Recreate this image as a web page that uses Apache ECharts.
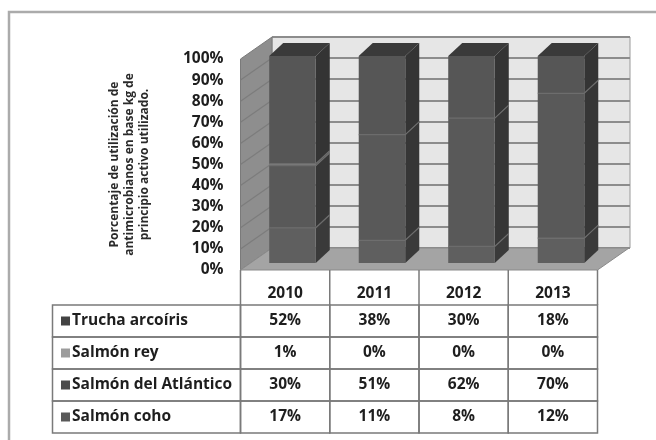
<!DOCTYPE html>
<html><head><meta charset="utf-8">
<script src="https://cdn.jsdelivr.net/npm/echarts@6/dist/echarts.min.js"></script>
<style>html,body{margin:0;padding:0;background:#fff}#c{width:656px;height:440px}</style>
</head><body><div id="c"></div>
<script>
// ---- data ----
const years = ['2010', '2011', '2012', '2013'];
const cohoValues = [17, 11, 8, 12];
const atlanticoValues = [30, 51, 62, 70];
const reyValues = [1, 0, 0, 0];
const truchaValues = [52, 38, 30, 18];
// stack order bottom -> top
const stackNames = ['Salmón coho', 'Salmón del Atlántico', 'Salmón rey', 'Trucha arcoíris'];
const stackValues = [cohoValues, atlanticoValues, reyValues, truchaValues];
const axisTitle = 'Porcentaje de utilización de\nantimicrobianos en base kg de\nprincipio activo utilizado.';

// ---- styles ----
const frontColors = ['#5f5f5f', '#595959', '#7c7c7c', '#565656'];
const sideColors = ['#3a3a3a', '#363636', '#5a5a5a', '#343434'];
const keyColors = ['#595959', '#4c4c4c', '#9c9c9c', '#434343'];
const FONT = '"Open Sans", "DejaVu Sans", sans-serif';
const BDX = 14, BDY = -13;     // bar depth
const WDX = 31.5, WDY = -22;   // wall depth

// table rows (top -> bottom) are reverse of stack
const tableRowIdx = [3, 2, 1, 0];
const tableRows = tableRowIdx.map(i => stackNames[i]);
const tableData = [];
tableRowIdx.forEach((si, r) => {
  years.forEach((y, c) => tableData.push([c, r, stackValues[si][c]]));
});

function barSeries(si) {
  const data = years.map((y, i) => {
    let lo = 0;
    for (let k = 0; k < si; k++) lo += stackValues[k][i];
    return [i, lo, lo + stackValues[si][i]];
  });
  const isTop = si === stackValues.length - 1;
  return {
    type: 'custom', name: stackNames[si], xAxisIndex: 2, yAxisIndex: 2,
    data: data, z: 5 + si,
    renderItem: function (params, api) {
      const i = api.value(0), lo = api.value(1), hi = api.value(2);
      if (hi - lo <= 0) return null;
      const band = api.size([1, 0])[0];
      const w = band * 0.52;
      const pLo = api.coord([i, lo]), pHi = api.coord([i, hi]);
      const x0 = pLo[0] - w / 2, x1 = pLo[0] + w / 2, yB = pLo[1], yT = pHi[1];
      const ch = [
        { type: 'polygon', shape: { points: [[x1, yB], [x1, yT], [x1 + BDX, yT + BDY], [x1 + BDX, yB + BDY]] },
          style: { fill: sideColors[si] } },
        { type: 'rect', shape: { x: x0, y: yT, width: w, height: yB - yT }, style: { fill: frontColors[si] } }
      ];
      if (lo > 0) {
        ch.push({ type: 'polyline', shape: { points: [[x0, yB], [x1, yB], [x1 + BDX, yB + BDY]] },
          style: { stroke: '#6c6c6c', lineWidth: 1.2, fill: null } });
      }
      if (isTop) {
        ch.push({ type: 'polygon', shape: { points: [[x0, yT], [x1, yT], [x1 + BDX, yT + BDY], [x0 + BDX, yT + BDY]] },
          style: { fill: '#3a3a3a' } });
      }
      return { type: 'group', children: ch };
    }
  };
}

const chart = echarts.init(document.getElementById('c'), null, { renderer: 'canvas' });
const option = {
  backgroundColor: '#fff',
  animation: false,
  graphic: [{
    type: 'rect', shape: { x: 9, y: 12, width: 700, height: 500 },
    style: { fill: null, stroke: '#ababab', lineWidth: 2.5 }, z: 0
  }],
  grid: [
    { left: 272, top: 37, width: 358, height: 211, show: true, backgroundColor: '#e6e6e6', borderColor: '#9a9a9a', borderWidth: 1 },
    { left: 240.5, top: 59, width: 357, height: 211 },
    { left: 247.75, top: 56, width: 358, height: 207 },
    { left: 240.5, top: 305, width: 357, height: 128 }
  ],
  xAxis: [
    { gridIndex: 0, type: 'category', data: years, show: false },
    { gridIndex: 1, type: 'category', data: years, show: false },
    { gridIndex: 2, type: 'category', data: years, show: false },
    { gridIndex: 3, type: 'category', data: years, position: 'top',
      axisLine: { show: false }, axisTick: { show: false },
      axisLabel: { margin: 3, color: '#1e1e1e', fontFamily: FONT, fontWeight: 'bold', fontSize: 15.5 } }
  ],
  yAxis: [
    { gridIndex: 0, type: 'value', min: 0, max: 100, interval: 10,
      axisLine: { show: false }, axisTick: { show: false }, axisLabel: { show: false },
      splitLine: { show: true, lineStyle: { color: '#8c8c8c', width: 1.8 } } },
    { gridIndex: 1, type: 'value', min: 0, max: 100, interval: 10,
      axisLine: { show: false }, axisTick: { show: false }, splitLine: { show: false },
      axisLabel: { margin: 17, formatter: '{value}%', color: '#1e1e1e', fontFamily: FONT, fontWeight: 'bold', fontSize: 15.5 },
      name: axisTitle, nameLocation: 'middle', nameRotate: 90, nameGap: 88,
      nameTextStyle: { fontFamily: FONT, fontWeight: 'bold', fontSize: 12, lineHeight: 15, color: '#2a2a2a', align: 'center' } },
    { gridIndex: 2, type: 'value', min: 0, max: 100, show: false },
    { gridIndex: 3, type: 'category', data: tableRows, inverse: true,
      axisLine: { show: false }, axisTick: { show: false },
      axisLabel: {
        margin: 179.5, align: 'left',
        formatter: function (v, idx) { return '{k' + idx + '|}{t|' + v + '}'; },
        rich: Object.assign({
          t: { fontFamily: FONT, fontWeight: 'bold', fontSize: 15.5, color: '#1e1e1e', padding: [0, 0, 0, 2] }
        }, ...tableRowIdx.map((si, r) => ({ ['k' + r]: { width: 9, height: 9, backgroundColor: keyColors[si] } })))
      } }
  ],
  series: [
    { // left wall + floor
      type: 'custom', xAxisIndex: 1, yAxisIndex: 1, data: [[0, 0]], z: 1, silent: true,
      renderItem: function (params, api) {
        const cs = params.coordSys;
        const xl = cs.x, xr = cs.x + cs.width, yt = cs.y, yb = cs.y + cs.height;
        const ch = [
          { type: 'polygon', shape: { points: [[xl, yt], [xl + WDX, yt + WDY], [xl + WDX, yb + WDY], [xl, yb]] },
            style: { fill: '#8e8e8e', stroke: '#7a7a7a', lineWidth: 1 } }
        ];
        for (let v = 10; v < 100; v += 10) {
          const y = api.coord([0, v])[1];
          ch.push({ type: 'line', shape: { x1: xl, y1: y, x2: xl + WDX, y2: y + WDY }, style: { stroke: '#7c7c7c', lineWidth: 1.2 } });
        }
        ch.push({ type: 'polygon', shape: { points: [[xl, yb], [xr, yb], [xr + WDX, yb + WDY], [xl + WDX, yb + WDY]] },
          style: { fill: '#a4a4a4', stroke: '#8a8a8a', lineWidth: 1 } });
        return { type: 'group', children: ch };
      }
    },
    barSeries(0), barSeries(1), barSeries(2), barSeries(3),
    { // data table
      type: 'custom', xAxisIndex: 3, yAxisIndex: 3, data: tableData, z: 3, silent: true,
      renderItem: function (params, api) {
        const cs = params.coordSys;
        const c = api.value(0), r = api.value(1), v = api.value(2);
        const ctr = api.coord([c, r]);
        const sz = api.size([1, 1]);
        const x0 = ctr[0] - sz[0] / 2, y0 = ctr[1] - sz[1] / 2;
        const ls = { stroke: '#7a7a7a', lineWidth: 1.5, fill: null };
        const ch = [
          { type: 'rect', shape: { x: x0, y: y0, width: sz[0], height: sz[1] }, style: ls },
          { type: 'text', style: { text: v + '%', x: ctr[0], y: ctr[1], align: 'center', verticalAlign: 'middle',
            fill: '#1e1e1e', font: 'bold 15.5px ' + FONT } }
        ];
        if (c === 0) {
          ch.push({ type: 'rect', shape: { x: cs.x - 188, y: y0, width: 188, height: sz[1] }, style: ls });
        }
        if (r === 0) {
          ch.push({ type: 'line', shape: { x1: x0, y1: y0 - 35, x2: x0, y2: y0 }, style: ls });
          if (c === years.length - 1) {
            ch.push({ type: 'line', shape: { x1: x0 + sz[0], y1: y0 - 35, x2: x0 + sz[0], y2: y0 }, style: ls });
          }
        }
        return { type: 'group', children: ch };
      }
    }
  ]
};
chart.setOption(option);
</script>
</body></html>
